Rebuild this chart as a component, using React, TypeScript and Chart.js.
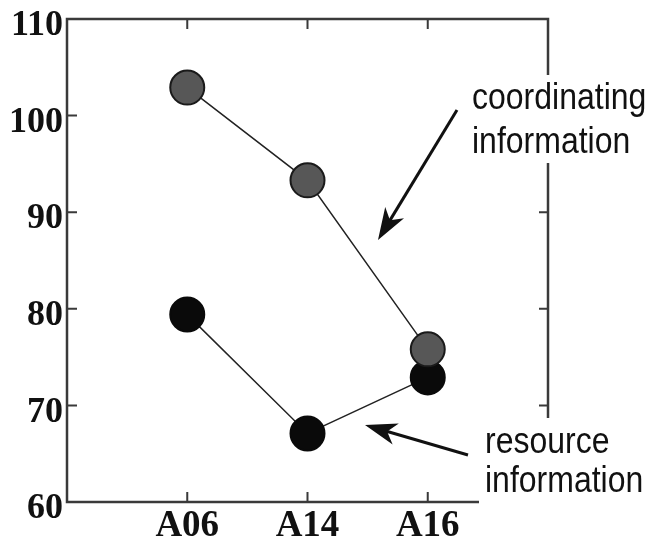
import React, { useEffect, useRef } from "react";
import { Chart, registerables } from "chart.js";

Chart.register(...registerables);

const categories = ["A06", "A14", "A16"];
const coordinating = [102.9, 93.3, 75.8];
const resource = [79.4, 67.1, 72.9];
const yTicks = [60, 70, 80, 90, 100, 110];
const coordLabel = ["coordinating", "information"];
const resourceLabel = ["resource", "information"];

function drawArrow(ctx: CanvasRenderingContext2D, tx: number, ty: number, hx: number, hy: number) {
  const dx = tx - hx;
  const dy = ty - hy;
  const len = Math.hypot(dx, dy);
  const ux = dx / len;
  const uy = dy / len;
  const px = -uy;
  const py = ux;
  const L = 32;
  const W = 11;
  ctx.save();
  ctx.strokeStyle = "#111";
  ctx.fillStyle = "#111";
  ctx.lineWidth = 3;
  ctx.beginPath();
  ctx.moveTo(tx, ty);
  ctx.lineTo(hx + ux * L * 0.7, hy + uy * L * 0.7);
  ctx.stroke();
  ctx.beginPath();
  ctx.moveTo(hx, hy);
  ctx.lineTo(hx + ux * L + px * W, hy + uy * L + py * W);
  ctx.lineTo(hx + ux * L * 0.72, hy + uy * L * 0.72);
  ctx.lineTo(hx + ux * L - px * W, hy + uy * L - py * W);
  ctx.closePath();
  ctx.fill();
  ctx.restore();
}

function drawLabel(ctx: CanvasRenderingContext2D, lines: string[], x: number, baseline: number, gap: number) {
  ctx.save();
  ctx.fillStyle = "#111";
  ctx.font = "32px 'Liberation Sans', Arial, sans-serif";
  ctx.textAlign = "left";
  ctx.textBaseline = "alphabetic";
  lines.forEach((t, i) => {
    ctx.save();
    ctx.translate(x, baseline + i * gap);
    ctx.scale(1, 1.15);
    ctx.fillText(t, 0, 0);
    ctx.restore();
  });
  ctx.restore();
}

const framePlugin = {
  id: "frame",
  beforeDatasetsDraw(chart: any) {
    const { ctx, chartArea } = chart;
    const xs = chart.scales.x;
    const ys = chart.scales.y;
    ctx.save();
    ctx.strokeStyle = "#3a3a3a";
    ctx.lineWidth = 2.5;
    ctx.strokeRect(chartArea.left, chartArea.top, chartArea.right - chartArea.left, chartArea.bottom - chartArea.top);
    ctx.lineWidth = 2;
    ctx.beginPath();
    categories.forEach((_, i) => {
      const px = xs.getPixelForValue(i + 1);
      ctx.moveTo(px, chartArea.top);
      ctx.lineTo(px, chartArea.top + 10);
      ctx.moveTo(px, chartArea.bottom);
      ctx.lineTo(px, chartArea.bottom - 10);
    });
    yTicks.forEach((v) => {
      const py = ys.getPixelForValue(v);
      ctx.moveTo(chartArea.left, py);
      ctx.lineTo(chartArea.left + 10, py);
      ctx.moveTo(chartArea.right, py);
      ctx.lineTo(chartArea.right - 9, py);
    });
    ctx.stroke();
    ctx.restore();
  },
  afterDraw(chart: any) {
    const { ctx } = chart;
    ctx.save();
    ctx.fillStyle = "#ffffff";
    ctx.fillRect(466, 75, 188, 88);
    ctx.fillRect(479, 418, 175, 92);
    ctx.restore();
    drawLabel(ctx, coordLabel, 472, 109, 44);
    drawLabel(ctx, resourceLabel, 485, 453, 39);
    drawArrow(ctx, 457, 110, 378, 240);
    drawArrow(ctx, 468, 455, 365, 425);
  },
};

export default function App() {
  const ref = useRef<HTMLCanvasElement | null>(null);
  useEffect(() => {
    if (!ref.current) return;
    const chart = new Chart(ref.current, {
      type: "line",
      data: {
        datasets: [
          {
            label: "coordinating information",
            data: coordinating.map((v, i) => ({ x: i + 1, y: v })),
            borderColor: "#222",
            borderWidth: 1.5,
            pointRadius: 17,
            pointBorderWidth: 2,
            pointBackgroundColor: "#575757",
            pointBorderColor: "#1a1a1a",
            fill: false,
          },
          {
            label: "resource information",
            data: resource.map((v, i) => ({ x: i + 1, y: v })),
            borderColor: "#222",
            borderWidth: 1.5,
            pointRadius: 17,
            pointBorderWidth: 2,
            pointBackgroundColor: "#0a0a0a",
            pointBorderColor: "#0a0a0a",
            fill: false,
          },
        ],
      },
      options: {
        animation: false,
        responsive: false,
        maintainAspectRatio: false,
        layout: { padding: { top: 16, right: 106, left: 0, bottom: 0 } },
        plugins: { legend: { display: false }, tooltip: { enabled: false } },
        scales: {
          x: {
            type: "linear",
            min: 0,
            max: 4,
            grid: { display: false, drawTicks: false },
            border: { display: false },
            afterFit: (s: any) => {
              s.height = 42;
              s.paddingLeft = 0;
              s.paddingRight = 0;
            },
            afterBuildTicks: (s: any) => {
              s.ticks = categories.map((_, i) => ({ value: i + 1 }));
            },
            ticks: {
              padding: 2,
              color: "#111",
              font: { family: "'Liberation Serif', 'Times New Roman', serif", size: 37, weight: "bold" },
              callback: (v: any) => categories[Number(v) - 1] ?? "",
              maxRotation: 0,
              autoSkip: false,
            },
          },
          y: {
            type: "linear",
            min: 60,
            max: 110,
            grid: { display: false, drawTicks: false },
            border: { display: false },
            afterFit: (s: any) => {
              s.width = 67;
              s.paddingTop = 0;
              s.paddingBottom = 0;
            },
            afterBuildTicks: (s: any) => {
              s.ticks = yTicks.map((v) => ({ value: v }));
            },
            ticks: {
              padding: 4,
              labelOffset: 7,
              color: "#111",
              font: { family: "'Liberation Serif', 'Times New Roman', serif", size: 36, weight: "bold" },
            },
          },
        },
      },
      plugins: [framePlugin],
    });
    return () => chart.destroy();
  }, []);
  return (
    <div style={{ position: "fixed", left: 0, top: 0, width: 654, height: 544, background: "#fff" }}>
      <canvas ref={ref} width={654} height={544} style={{ width: 654, height: 544 }} />
    </div>
  );
}
